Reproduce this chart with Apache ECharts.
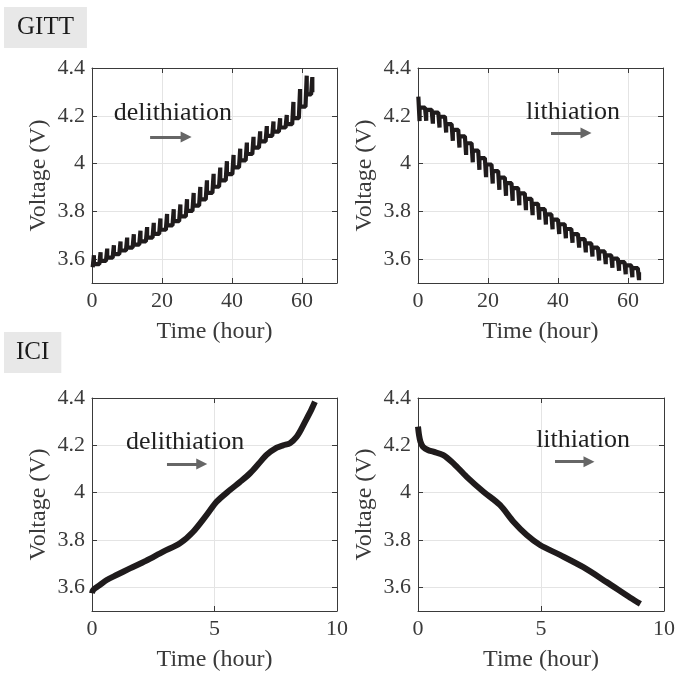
<!DOCTYPE html>
<html><head><meta charset="utf-8">
<script src="https://cdn.jsdelivr.net/npm/echarts@6/dist/echarts.min.js"></script>
<style>html,body{margin:0;padding:0;background:#fff}#c{width:678px;height:673px}</style>
</head><body><div id="c"></div>
<script>
// ---------- data ----------
// GITT delithiation: pulse start time (h), rest voltage before each pulse (+ final rest), voltage at pulse end
const gittDelT    = [0.2, 2.1, 4.0, 5.9, 7.8, 9.7, 11.6, 13.5, 15.4, 17.3, 19.2, 21.1, 23.0, 24.9, 26.8, 28.7, 30.6, 32.5, 34.4, 36.3, 38.2, 40.1, 42.0, 43.9, 45.8, 47.7, 49.6, 51.5, 53.4, 55.3, 57.2, 59.1, 61.0, 62.6];
const gittDelRest = [3.566, 3.579, 3.593, 3.606, 3.621, 3.636, 3.648, 3.661, 3.674, 3.690, 3.706, 3.723, 3.741, 3.759, 3.779, 3.802, 3.824, 3.850, 3.877, 3.903, 3.930, 3.956, 3.984, 4.013, 4.040, 4.067, 4.093, 4.116, 4.134, 4.151, 4.165, 4.190, 4.238, 4.290, 4.298];
const gittDelPeak = [3.616, 3.629, 3.644, 3.658, 3.674, 3.690, 3.704, 3.719, 3.734, 3.752, 3.770, 3.789, 3.809, 3.829, 3.851, 3.877, 3.902, 3.930, 3.957, 3.983, 4.010, 4.036, 4.062, 4.088, 4.112, 4.135, 4.157, 4.176, 4.190, 4.203, 4.258, 4.312, 4.368, 4.362];

// GITT lithiation
const gittLitT    = [0.1, 2.0, 3.9, 5.8, 7.7, 9.6, 11.5, 13.4, 15.3, 17.2, 19.1, 21.0, 22.9, 24.8, 26.7, 28.6, 30.5, 32.4, 34.3, 36.2, 38.1, 40.0, 41.9, 43.8, 45.7, 47.6, 49.5, 51.4, 53.3, 55.2, 57.1, 59.0, 60.9, 62.8];
const gittLitRest = [4.280, 4.234, 4.225, 4.213, 4.196, 4.165, 4.141, 4.114, 4.085, 4.054, 4.023, 3.996, 3.968, 3.941, 3.918, 3.897, 3.875, 3.852, 3.831, 3.809, 3.787, 3.765, 3.746, 3.726, 3.705, 3.684, 3.666, 3.648, 3.632, 3.616, 3.602, 3.587, 3.574, 3.562, 3.545];
const gittLitPeak = [4.178, 4.179, 4.167, 4.151, 4.130, 4.095, 4.067, 4.036, 4.005, 3.974, 3.943, 3.916, 3.890, 3.865, 3.844, 3.825, 3.805, 3.784, 3.765, 3.745, 3.725, 3.705, 3.687, 3.668, 3.648, 3.628, 3.611, 3.594, 3.579, 3.564, 3.551, 3.537, 3.524, 3.512];
const gittPulseHours = 0.35;

// ICI delithiation / lithiation
const iciDelT = [0, 0.05, 0.3, 0.6, 1.0, 1.55, 2.2, 2.91, 3.59, 4.13, 4.68, 5.09, 5.63, 6.05, 6.45, 6.8, 7.13, 7.54, 7.8, 8.08, 8.35, 8.55, 8.76, 8.95, 9.1];
const iciDelV = [3.575, 3.589, 3.608, 3.631, 3.652, 3.680, 3.712, 3.751, 3.786, 3.835, 3.906, 3.962, 4.011, 4.046, 4.082, 4.122, 4.160, 4.190, 4.200, 4.209, 4.236, 4.270, 4.312, 4.350, 4.384];
const iciLitT = [0, 0.04, 0.1, 0.2, 0.4, 0.62, 1.03, 1.44, 1.98, 2.66, 3.33, 3.88, 4.42, 4.96, 5.77, 6.72, 7.67, 8.63, 9.04];
const iciLitV = [4.279, 4.245, 4.215, 4.194, 4.180, 4.173, 4.159, 4.124, 4.067, 4.004, 3.948, 3.877, 3.821, 3.779, 3.737, 3.685, 3.622, 3.556, 3.530];

// axes
const voltRange = [3.5, 4.4];
const gittTimeRange = [0, 70], gittTimeStep = 20;
const iciTimeRange = [0, 10], iciTimeStep = 5;
const panelTitles = ['GITT', 'ICI'];
const notes = ['delithiation', 'lithiation'];
// annotation anchors in data coordinates: [text t, text V, arrow t0, arrow t1, arrow V]
const noteGittDel = [23.1, 4.212, 16.6, 26.9, 4.111];
const noteGittLit = [44.3, 4.216, 38.0, 48.0, 4.128];
const noteIciDel  = [3.8, 4.214, 3.06, 4.48, 4.121];
const noteIciLit  = [6.71, 4.223, 5.57, 6.95, 4.131];

// ---------- styling ----------
const FONT = 'Liberation Serif';
const AXIS_C = '#3a3a3a', LABEL_C = '#3a3a3a', GRID_C = '#e4e4e4', LINE_C = '#1f1b1c';

function saw(t, rest, peak, dur) {
  const pts = [];
  for (let i = 0; i < t.length; i++) {
    pts.push([t[i], rest[i]]);
    pts.push([t[i] + dur, peak[i]]);
    pts.push([t[i] + dur, rest[i + 1]]);
  }
  return pts;
}
function zip(a, b) { return a.map((v, i) => [v, b[i]]); }

const grids = [
  {left: 92, top: 68, width: 245, height: 215},
  {left: 418, top: 68, width: 245, height: 215},
  {left: 92, top: 398, width: 245, height: 213},
  {left: 418, top: 398, width: 246, height: 213}
];

const xAxis = [], yAxis = [];
grids.forEach((g, gi) => {
  const gitt = gi < 2;
  const rng = gitt ? gittTimeRange : iciTimeRange;
  const step = gitt ? gittTimeStep : iciTimeStep;
  xAxis.push({
    gridIndex: gi, type: 'value', min: rng[0], max: rng[1], interval: step,
    axisLine: {show: true, onZero: false, lineStyle: {color: AXIS_C, width: 1}},
    axisTick: {show: true, inside: true, length: 5, lineStyle: {color: AXIS_C}},
    axisLabel: {margin: 7, fontSize: 22, color: LABEL_C, fontFamily: FONT, showMaxLabel: !gitt},
    splitLine: {show: true, lineStyle: {color: GRID_C, width: 1}},
    name: 'Time (hour)', nameLocation: 'middle', nameGap: 37,
    nameTextStyle: {fontSize: 24, color: LABEL_C, fontFamily: FONT}
  });
  xAxis.push({
    gridIndex: gi, type: 'value', position: 'top', min: rng[0], max: rng[1], interval: step,
    axisLine: {show: true, onZero: false, lineStyle: {color: AXIS_C, width: 1}},
    axisTick: {show: true, inside: true, length: 5, lineStyle: {color: AXIS_C}},
    axisLabel: {show: false}, splitLine: {show: false}
  });
  yAxis.push({
    gridIndex: gi, type: 'value', min: voltRange[0], max: voltRange[1], splitNumber: 5,
    axisLine: {show: true, onZero: false, lineStyle: {color: AXIS_C, width: 1}},
    axisTick: {show: true, inside: true, length: 5, lineStyle: {color: AXIS_C}},
    axisLabel: {margin: 7, fontSize: 22, color: LABEL_C, fontFamily: FONT, showMinLabel: false},
    splitLine: {show: true, lineStyle: {color: GRID_C, width: 1}},
    name: 'Voltage (V)', nameLocation: 'middle', nameGap: 41,
    nameTextStyle: {fontSize: 24, color: LABEL_C, fontFamily: FONT}
  });
  yAxis.push({
    gridIndex: gi, type: 'value', position: 'right', min: voltRange[0], max: voltRange[1], splitNumber: 5,
    axisLine: {show: true, onZero: false, lineStyle: {color: AXIS_C, width: 1}},
    axisTick: {show: true, inside: true, length: 5, lineStyle: {color: AXIS_C}},
    axisLabel: {show: false}, splitLine: {show: false}
  });
});

function annot(n, text) {
  return {
    markPoint: {
      silent: true, symbol: 'rect', symbolSize: 1, itemStyle: {color: 'rgba(0,0,0,0)'},
      label: {show: true, position: 'inside', formatter: text, fontSize: 26, color: '#1f1f1f', fontFamily: FONT},
      data: [{coord: [n[0], n[1]]}]
    },
    markLine: {
      silent: true, symbol: ['none', 'triangle'], symbolSize: 11,
      lineStyle: {color: '#666666', width: 3, type: 'solid'},
      itemStyle: {color: '#666666'},
      label: {show: false},
      data: [[{coord: [n[2], n[4]]}, {coord: [n[3], n[4]]}]]
    }
  };
}

function lineSeries(gi, data, width, extra, note, text) {
  return Object.assign({
    type: 'line', xAxisIndex: gi * 2, yAxisIndex: gi * 2, data: data,
    showSymbol: false, symbol: 'none', clip: true,
    lineStyle: {color: LINE_C, width: width, join: 'bevel'},
    emphasis: {disabled: true}
  }, extra, annot(note, text));
}

const series = [
  lineSeries(0, saw(gittDelT, gittDelRest, gittDelPeak, gittPulseHours), 4.2, {}, noteGittDel, notes[0]),
  lineSeries(1, saw(gittLitT, gittLitRest, gittLitPeak, gittPulseHours), 4.2, {}, noteGittLit, notes[1]),
  lineSeries(2, zip(iciDelT, iciDelV), 6, {smooth: 0.3}, noteIciDel, notes[0]),
  lineSeries(3, zip(iciLitT, iciLitV), 6, {smooth: 0.3}, noteIciLit, notes[1])
];

const titleStyle = {fontSize: 25, fontWeight: 'normal', color: '#1a1a1a', fontFamily: FONT, lineHeight: 25};
const option = {
  animation: false,
  backgroundColor: '#ffffff',
  title: [
    {text: panelTitles[0], left: 4, top: 7, padding: [8, 13, 8, 13], backgroundColor: '#e8e8e8', textStyle: titleStyle},
    {text: panelTitles[1], left: 4, top: 332, padding: [8, 12, 8, 12], backgroundColor: '#e8e8e8', textStyle: titleStyle}
  ],
  grid: grids,
  xAxis: xAxis,
  yAxis: yAxis,
  series: series
};
const chart = echarts.init(document.getElementById('c'), null, {renderer: 'canvas'});
chart.setOption(option);
</script></body></html>
